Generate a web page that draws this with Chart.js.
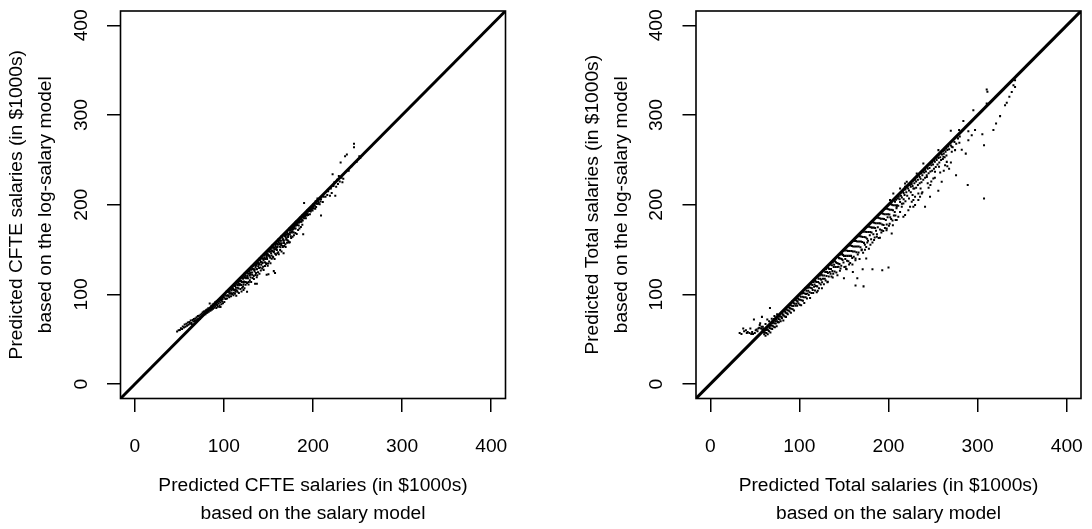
<!DOCTYPE html>
<html>
<head>
<meta charset="utf-8">
<script src="https://cdn.jsdelivr.net/npm/chart.js@4.4.1/dist/chart.umd.min.js"></script>
<style>
  html, body { margin: 0; padding: 0; background: #fff; }
  #wrap { position: relative; width: 1092px; height: 529px; }
  canvas { position: absolute; top: 0; }
</style>
</head>
<body>
<div id="wrap">
  <canvas id="cfte-chart" width="546" height="529" style="left:0"></canvas>
  <canvas id="total-chart" width="546" height="529" style="left:546px"></canvas>
</div>
<script>
// axis ticks shared by both panels (values in $1000s)
const tickValues = [0, 100, 200, 300, 400]
const axisMin = -16
const axisMax = 416

const cfteXTitle = ['Predicted CFTE salaries (in $1000s)', 'based on the salary model']
const cfteYTitle = ['Predicted CFTE salaries (in $1000s)', 'based on the log-salary model']
const totalXTitle = ['Predicted Total salaries (in $1000s)', 'based on the salary model']
const totalYTitle = ['Predicted Total salaries (in $1000s)', 'based on the log-salary model']

// [salary model, log-salary model]
const cftePoints = [
  // low end, sits just above the diagonal
  [47.5, 58.6], [49.2, 60.1], [50.6, 60.4], [51.8, 62.3], [53.1, 61.5], [53.9, 64.2], [55.2, 63.1], [56.0, 66.4],
  [56.8, 64.0], [57.9, 67.3], [58.7, 65.2], [59.6, 68.8], [60.2, 66.1], [61.3, 69.4], [61.9, 67.2], [62.8, 70.9],
  [63.4, 68.3], [64.1, 66.9], [64.9, 71.6], [65.7, 69.8], [66.3, 72.7], [67.2, 70.4], [67.9, 73.3], [68.6, 71.2],
  [69.4, 74.6], [70.1, 72.3], [70.8, 75.9], [71.3, 73.0], [72.0, 76.2], [72.7, 74.4], [73.2, 72.6], [73.8, 77.5],
  [74.3, 75.1], [75.1, 78.4], [75.6, 76.0], [76.2, 79.8], [76.7, 77.1], [77.3, 80.6], [77.8, 78.2], [78.2, 81.3],
  [78.9, 79.4], [79.3, 77.8], [79.8, 82.5], [80.4, 80.1],
  [80.9, 83.2], [81.4, 79.6], [81.9, 81.4], [82.5, 84.6], [83.0, 80.7], [83.6, 82.9], [84.1, 90.0], [84.4, 85.3],
  [84.9, 81.8], [85.5, 84.4], [85.9, 87.1], [86.4, 83.0], [86.9, 85.6], [87.4, 88.7], [87.8, 84.1], [88.3, 86.5],
  [88.7, 89.6], [89.2, 85.3], [89.7, 87.8], [90.2, 91.2], [90.6, 86.9], [91.1, 89.4], [91.5, 84.9], [92.0, 92.6],
  [92.4, 88.3], [92.9, 90.7], [93.3, 86.4], [93.8, 93.8], [94.2, 89.9], [94.7, 92.1], [95.1, 87.6], [95.6, 95.2],
  [96.0, 86.0], [96.3, 91.4], [96.8, 93.7], [97.2, 89.2], [97.7, 96.4], [98.1, 92.5], [98.6, 94.9], [99.0, 90.3],
  [99.5, 97.8],
  // main band
  [100, 97], [100.5, 91.5], [101, 100], [101.5, 95.5], [102, 95], [102.5, 98.5], [103, 103], [103.5, 95.5],
  [104, 99], [104.5, 98.5], [105, 103], [105.5, 98.5], [106, 97], [106.5, 103.5], [107, 101], [107.5, 106.5],
  [108, 98], [108.5, 104.5], [109, 101], [109.5, 100.5], [110, 108], [110.5, 105.5], [111, 102], [111.5, 111.5],
  [112, 105], [112.5, 109.5], [113, 103], [113.5, 107.5], [114, 113], [114.5, 104.5], [115, 111], [115.5, 107.5],
  [116, 114], [116.5, 106.5], [117, 112], [117.5, 110.5], [118, 115], [118.5, 111.5], [119, 118], [119.5, 110.5],
  [120, 114], [120.5, 107.5], [121, 119], [121.5, 117.5], [122, 111], [122.5, 114.5], [123, 123], [123.5, 118.5],
  [124, 114], [124.5, 121.5], [125, 118], [125.5, 113.5], [126, 125], [126.5, 120.5], [127, 118], [127.5, 123.5],
  [128, 114], [128.5, 126.5], [129, 121], [129.5, 124.5], [130, 119], [130.5, 127.5], [131, 131], [131.5, 124.5],
  [132, 122], [132.5, 128.5], [133, 132], [133.5, 120.5], [134, 128], [134.5, 125.5], [135, 133], [135.5, 130.5],
  [136, 124], [136.5, 128.5], [137, 134], [137.5, 121.5], [138, 137], [138.5, 131.5], [139, 135], [139.5, 129.5],
  [140, 134], [140.5, 138.5], [141, 130], [141.5, 136.5], [142, 133], [142.5, 142.5], [143, 140], [143.5, 135.5],
  [144, 131], [144.5, 138.5], [145, 144], [145.5, 141.5], [146, 136], [146.5, 139.5], [147, 135], [147.5, 145.5],
  [148, 143], [148.5, 139.5], [149, 146], [149.5, 134.5], [150, 144], [150.5, 149.5], [151, 143], [151.5, 147.5],
  [152, 141], [152.5, 150.5], [153, 146], [153.5, 143.5], [154, 149], [154.5, 154.5], [155, 142], [155.5, 152.5],
  [156, 147], [156.5, 150.5], [157, 156], [157.5, 145.5], [158, 154], [158.5, 150.5], [159, 157], [159.5, 149.5],
  [160, 153], [160.5, 155.5], [161, 147], [161.5, 158.5], [162, 161], [162.5, 153.5], [163, 157], [163.5, 152.5],
  [164, 160], [164.5, 164.5], [165, 157], [165.5, 163.5], [166, 154], [166.5, 161.5], [167, 160], [167.5, 157.5],
  [168, 165], [168.5, 167.5], [169, 156], [169.5, 163.5], [170, 161], [170.5, 166.5], [171, 169], [171.5, 160.5],
  [172, 164], [172.5, 167.5], [173, 158], [173.5, 173.5], [174, 167], [174.5, 171.5], [175, 165], [175.5, 172.5],
  [176, 175], [176.5, 170.5], [177, 175], [177.5, 172.5], [178, 177], [178.5, 174.5], [179, 176], [179.5, 173.5],
  [180, 178], [180.5, 173.5], [181, 177], [181.5, 181.5], [182, 179], [182.5, 177.5], [183, 181], [183.5, 182.5],
  [184, 177], [184.5, 180.5], [185, 182], [185.5, 185.5], [186, 181], [186.5, 184.5], [187, 181], [187.5, 183.5],
  [188, 188], [188.5, 182.5], [189, 186], [189.5, 187.5], [190, 185], [190.5, 189.5], [191, 187], [191.5, 188.5],
  [192, 185], [192.5, 190.5], [193, 188], [193.5, 193.5], [194, 190], [194.5, 188.5], [195, 193], [195.5, 194.5],
  [196, 193], [196.5, 189.5], [197, 196], [197.5, 192.5], [198, 195], [198.5, 194.5], [199, 197], [199.5, 193.5],
  [200, 196], [200.5, 200.5], [201, 196], [201.5, 199.5], [202, 199], [202.5, 195.5], [203, 202], [203.5, 197.5],
  [204, 201], [204.5, 204.5], [205, 201], [205.5, 203.5], [206, 201], [206.5, 202.5], [207, 206], [207.5, 200.5],
  [208, 206], [208.5, 203.5], [209, 206], [209.5, 208.5],
  [105.2, 103.2], [106.2, 101.2], [107.2, 106.2], [108.2, 101.2], [109.2, 106.2], [110.2, 106.2], [111.2, 105.2],
  [112.2, 111.2], [113.2, 105.2], [114.2, 112.2], [115.2, 110.2], [116.2, 113.2], [117.2, 110.2], [118.2, 118.2],
  [119.2, 115.2], [120.2, 114.2], [121.2, 119.2], [122.2, 113.2], [123.2, 120.2], [124.2, 119.2], [125.2, 124.2],
  [126.2, 119.2], [127.2, 123.2], [128.2, 126.2], [129.2, 123.2], [130.2, 122.2], [131.2, 128.2], [132.2, 131.2],
  [133.2, 128.2], [134.2, 127.2], [135.2, 133.2], [136.2, 132.2], [137.2, 128.2], [138.2, 135.2], [139.2, 133.2],
  [140.2, 140.2], [141.2, 136.2], [142.2, 140.2], [143.2, 135.2], [144.2, 140.2], [145.2, 144.2], [146.2, 140.2],
  [147.2, 144.2], [148.2, 141.2], [149.2, 144.2], [150.2, 148.2], [151.2, 142.2], [152.2, 148.2], [153.2, 152.2],
  [154.2, 148.2], [155.2, 152.2], [156.2, 148.2], [157.2, 152.2], [158.2, 156.2], [159.2, 152.2], [160.2, 156.2],
  [161.2, 161.2], [162.2, 156.2], [163.2, 160.2], [164.2, 155.2], [165.2, 164.2], [166.2, 161.2], [167.2, 160.2],
  [168.2, 166.2], [169.2, 165.2], [170.2, 162.2], [171.2, 168.2], [172.2, 166.2], [173.2, 172.2], [174.2, 169.2],
  [175.2, 173.2], [176.2, 169.2], [177.2, 173.2], [178.2, 169.2], [179.2, 176.2], [180.2, 180.2], [181.2, 178.2],
  [182.2, 181.2], [183.2, 180.2], [184.2, 180.2], [185.2, 184.2], [186.2, 184.2], [187.2, 183.2], [188.2, 186.2],
  [189.2, 188.2], [190.2, 187.2], [191.2, 188.2], [192.2, 191.2], [193.2, 189.2], [194.2, 192.2], [195.2, 193.2],
  [196.2, 195.2], [197.2, 194.2], [198.2, 197.2], [199.2, 196.2], [200.2, 198.2],
  // lower edge of the band
  [110.7, 99.2], [112.4, 100.9], [113.9, 98.6], [115.3, 103.1], [116.8, 101.5], [118.6, 106.2], [119.8, 103.4],
  [121.5, 108.9], [123.1, 107.0], [124.4, 110.7], [126.0, 112.8], [127.7, 111.1], [129.1, 115.9], [130.6, 114.0],
  [132.3, 118.4], [133.7, 117.2], [135.4, 121.6], [136.9, 119.3], [138.3, 124.8], [139.9, 123.0], [141.4, 126.7],
  [143.0, 128.9], [144.6, 127.4], [146.1, 131.8], [147.5, 133.9], [149.2, 132.0], [150.8, 136.6], [152.3, 134.9],
  [153.7, 139.7], [155.4, 141.2], [156.9, 139.5], [158.5, 144.3], [160.0, 145.8], [161.6, 144.9], [163.1, 149.6],
  [164.7, 148.0], [166.2, 152.9], [167.8, 154.1], [169.3, 153.0], [170.9, 157.6], [172.4, 159.2], [174.0, 158.1],
  [175.5, 162.8], [177.1, 164.3], [178.6, 165.9], [180.2, 168.4], [181.7, 167.3], [183.3, 171.9], [184.8, 173.5],
  [186.4, 175.2], [188.0, 177.6],
  // stragglers below the band
  [96, 86], [122, 105], [126, 103], [135, 112], [137, 112], [148, 122], [150, 122.5], [156, 126],
  [157.4, 124], [167, 146], [189, 167], [190, 202], [209, 188], [203, 204], [205, 207],
  // upper end
  [211, 203], [212, 209], [214, 209], [216, 211], [217, 215], [219, 210], [220, 218], [221, 213],
  [222, 234], [223, 221], [224, 225], [225, 210], [226, 220], [227, 228], [228, 223], [229, 232],
  [230, 226], [231, 247], [232, 230], [233, 225], [234, 229], [236, 254], [238, 256], [240, 238],
  [243, 243], [246, 264], [246, 268], [249, 248], [251, 251], [252, 254], [253, 252]
]

const totalPoints = [
  // low end, partly above the diagonal
  [33, 57], [35, 56], [37, 62], [38, 59], [40, 60], [41, 57], [42, 58], [44, 57], [45, 62], [46, 56],
  [47, 58], [48, 56], [49, 72], [50, 57], [51, 60], [52, 61], [53, 59], [54, 62], [55, 63], [55.5, 66],
  [56, 68], [57, 62], [57.5, 64], [58, 75], [58.5, 61], [59, 64], [59.5, 62], [62, 67], [64, 72], [67, 85],
  [66, 70], [69, 73], [72, 76], [75, 78],
  // main band
  [60, 58], [60.5, 55.5], [61, 60], [61.5, 57.5], [62, 54], [62.5, 60.5], [63, 57], [63.5, 63.5],
  [64, 61], [64.5, 55.5], [65, 60], [65.5, 64.5], [66, 59], [66.5, 62.5], [67, 65], [67.5, 57.5],
  [68, 62], [68.5, 65.5], [69, 68], [69.5, 61.5], [70, 65], [70.5, 68.5], [71, 64], [71.5, 72.5],
  [72, 68], [72.5, 63.5], [73, 70], [73.5, 67.5], [74, 72], [74.5, 64.5], [75, 70], [75.5, 74.5],
  [76, 69], [76.5, 72.5], [77, 69], [77.5, 75.5], [78, 72], [78.5, 75.5], [79, 70], [79.5, 79.5],
  [80, 75], [80.5, 73.5], [81, 79], [81.5, 77.5], [82, 71], [82.5, 76.5], [83, 82], [83.5, 75.5],
  [84, 81], [84.5, 79.5], [85, 75], [85.5, 83.5], [86, 79], [86.5, 82.5], [87, 78], [87.5, 86.5],
  [88, 82], [88.5, 85.5], [89, 81], [89.5, 84.5], [90, 88], [90.5, 79.5], [91, 84], [91.5, 87.5],
  [92, 92], [92.5, 83.5], [93, 87], [93.5, 90.5], [94, 82], [94.5, 89.5], [95, 94], [95.5, 87.5],
  [96, 94], [96.5, 89.5], [97, 93], [97.5, 87.5], [98, 92], [98.5, 95.5], [99, 90], [99.5, 94.5],
  [100, 99], [100.5, 88.5], [101, 94], [101.5, 97.5], [102, 88], [102.5, 93.5], [103, 101], [103.5, 97.5],
  [104, 93], [104.5, 101.5], [105, 97], [105.5, 90.5], [106, 101], [106.5, 106.5], [107, 97], [107.5, 100.5],
  [108, 104], [108.5, 95.5], [109, 101], [109.5, 107.5], [110, 104], [110.5, 99.5], [111, 108], [111.5, 102.5],
  [112, 96], [112.5, 107.5], [113, 112], [113.5, 101.5], [114, 107], [114.5, 110.5], [115, 105], [115.5, 101.5],
  [116, 114], [116.5, 108.5], [117, 111], [117.5, 104.5], [118, 115], [118.5, 109.5], [119, 114], [119.5, 102.5],
  [120, 109], [120.5, 119.5], [121, 114], [121.5, 117.5], [122, 107], [122.5, 112.5], [123, 121], [123.5, 117.5],
  [124, 111], [124.5, 116.5], [125, 122], [125.5, 113.5], [126, 121], [126.5, 117.5], [127, 127], [127.5, 111.5],
  [128, 121], [128.5, 117.5], [129, 125], [129.5, 115.5], [130, 128], [130.5, 120.5], [131, 125], [131.5, 113.5],
  [132, 124], [132.5, 129.5], [133, 120], [133.5, 128.5], [134, 125], [134.5, 133.5], [135, 123], [135.5, 128.5],
  [136, 120], [136.5, 132.5], [137, 126], [137.5, 135.5], [138, 123], [138.5, 130.5], [139, 133], [139.5, 125.5],
  [140, 137], [140.5, 130.5], [141, 136], [141.5, 124.5], [142, 135], [142.5, 130.5], [143, 142], [143.5, 134.5],
  [144, 131], [144.5, 140.5], [145, 134], [145.5, 126.5], [146, 140], [146.5, 144.5], [147, 132], [147.5, 139.5],
  [148, 145], [148.5, 138.5], [149, 144], [149.5, 135.5], [150, 143], [150.5, 130.5], [151, 149], [151.5, 139.5],
  [152, 143], [152.5, 128.5], [153, 149], [153.5, 137.5], [154, 143], [154.5, 148.5], [155, 137], [155.5, 154.5],
  [156, 143], [156.5, 148.5], [157, 135], [157.5, 154.5], [158, 143], [158.5, 148.5], [159, 154], [159.5, 133.5],
  [160, 148], [160.5, 153.5], [161, 142], [161.5, 159.5], [162, 148], [162.5, 153.5], [163, 140], [163.5, 159.5],
  [164, 147], [164.5, 153.5], [165, 159], [165.5, 144.5], [166, 165], [166.5, 153.5], [167, 159], [167.5, 139.5],
  [168, 165], [168.5, 152.5], [169, 159], [169.5, 164.5], [170, 150], [170.5, 158.5], [171, 164], [171.5, 146.5],
  [172, 170], [172.5, 157.5], [173, 164], [173.5, 155.5], [174, 170], [174.5, 163.5], [175, 153], [175.5, 169.5],
  [176, 162], [176.5, 175.5], [177, 160], [177.5, 169.5], [178, 151], [178.5, 175.5], [179, 166], [179.5, 169.5],
  [180, 175], [180.5, 161.5], [181, 169], [181.5, 174.5], [182, 158], [182.5, 180.5], [183, 167], [183.5, 174.5],
  [184, 180], [184.5, 163.5], [185, 174], [185.5, 179.5], [186, 171], [186.5, 185.5], [187, 167], [187.5, 179.5],
  [188, 175], [188.5, 185.5], [189, 163], [189.5, 179.5], [190, 185], [190.5, 172.5], [191, 179], [191.5, 184.5],
  [192, 169], [192.5, 190.5], [193, 178], [193.5, 184.5], [194, 190], [194.5, 177.5], [195, 184], [195.5, 189.5],
  [196, 174], [196.5, 195.5], [197, 183], [197.5, 189.5], [198, 178], [198.5, 195.5], [199, 186], [199.5, 189.5],
  [200, 195], [200.5, 176.5], [201, 189], [201.5, 194.5], [202, 186], [202.5, 200.5], [203, 184], [203.5, 194.5],
  [204, 200], [204.5, 182.5], [205, 194], [205.5, 199.5], [206, 188], [206.5, 205.5], [207, 192], [207.5, 199.5],
  [208, 183], [208.5, 205.5], [209, 196], [209.5, 199.5],
  [120.6, 104.1], [125.3, 106.8], [131.8, 114.2], [137.4, 118.9], [142.7, 121.3], [146.2, 128.8], [151.9, 131.0],
  [155.8, 133.4], [159.3, 140.6], [162.9, 138.1], [166.4, 146.7], [169.8, 149.2], [173.6, 149.8], [176.2, 157.9],
  [179.7, 155.3], [183.8, 160.6], [186.9, 164.2], [190.4, 163.1], [194.1, 170.8], [197.8, 171.5], [201.3, 178.9],
  [204.9, 177.2], [207.8, 188.1],
  // upper branch along the diagonal
  [210.5, 207], [211.5, 209], [212.5, 206], [213, 213], [214, 210], [215, 208], [216, 215], [217, 213],
  [218, 211], [219, 217], [220, 214], [221, 220], [222, 218], [223, 216], [224, 222], [225, 220],
  [226, 223], [227, 221], [228, 227], [229, 224], [230, 228], [231, 226], [232, 231], [233, 228],
  [234, 233], [235, 231], [236, 229], [237, 235], [238, 233], [239, 237], [240, 236], [241, 239],
  [242, 237], [243, 242], [244, 240], [245, 244], [246, 241], [247, 246], [248, 244], [249, 247],
  [250, 245], [251, 250], [252, 248], [253, 252], [254, 250], [255, 254], [256, 252], [257, 256],
  [258, 253], [259, 258], [260, 256], [261, 260], [262, 257], [263, 261], [264, 259], [265, 263],
  [266, 261], [267, 265], [268, 262], [270, 266], [272, 264], [274, 270], [276, 268], [278, 274], [280, 276],
  // between the branches
  [211, 199], [213, 203], [215, 201], [217, 206], [219, 204], [221, 210], [223, 207], [225, 214],
  [227, 211], [229, 218], [231, 219], [233, 222], [235, 224], [237, 225], [239, 228], [241, 230],
  [243, 231], [245, 235], [247, 237], [249, 238], [251, 240], [253, 242], [255, 245], [257, 247],
  [259, 250], [261, 251], [263, 253], [265, 255],
  // lower branch and scattered points
  [216.7, 186.6], [218.6, 188.5], [222.3, 194], [224.2, 197.7], [226.1, 203.3], [227.9, 205.2], [229.8, 208.8],
  [233.5, 212.6], [213, 192], [214.9, 197.7], [216.7, 201.5], [209.2, 182.9], [211, 186.6], [203.6, 168],
  [192.4, 171.7], [198, 173.6], [205.4, 212.6], [201.7, 205.2], [207.3, 203.3], [209.2, 197.7], [220.5, 225.6],
  [218.6, 223.8], [218.6, 220], [213, 218.2], [227.9, 218.2], [237.3, 212.6], [235.4, 208.8], [233.5, 205.2],
  [229.8, 199.6], [227.9, 197.7], [241, 197.7], [246.6, 208.8], [255.9, 215.5], [259.7, 225.6], [250.3, 229.3],
  [252.2, 236.7], [242.9, 233], [231.7, 234.9], [239.1, 246], [256.7, 242.3], [265.4, 247.8], [263.5, 244.1],
  [261.6, 253.4], [250.3, 249.7], [256, 260.9], [271, 264.6], [271, 259], [274.7, 260.9], [282.2, 261.2],
  [279.5, 269], [293.4, 277.6], [289.6, 272], [286.7, 257], [275.8, 233], [288.9, 221.9], [307.2, 207],
  [307.2, 266.4], [305.3, 278.7], [297.1, 283.2], [289.6, 282], [279.2, 283.2], [269.9, 282.4], [284, 293.5],
  [295.2, 305.4], [310.2, 312.9], [317.7, 283.2], [320.7, 290.6], [325.2, 298.8], [330.8, 311], [332.7, 313.6],
  [335.6, 320.3], [338.3, 325.8], [342, 331.4], [340.2, 333.3], [342, 338.9], [310.2, 328.5], [311, 326],
  [244, 224], [248, 226], [252, 230], [258, 236], [262, 238], [266, 243], [268, 240], [270, 247],
  [245, 219], [238, 214], [236, 218], [247, 222],
  [150, 118], [153, 128], [163, 110], [165, 118], [172, 109], [171, 128], [182, 128], [193, 127],
  [200, 130], [160, 125], [175, 140]
]

const FONT = '19.2px "Liberation Sans", Arial, sans-serif'

// box, tick labels and two-line axis titles, R style
function frameLabels (xTitle, yTitle) {
  return {
    id: 'frameLabels',
    afterDraw (chart) {
      const { ctx, chartArea: a } = chart
      const xs = chart.scales.x
      const ys = chart.scales.y
      ctx.save()
      ctx.strokeStyle = '#000'
      ctx.lineWidth = 1.6
      ctx.strokeRect(a.left, a.top, a.right - a.left, a.bottom - a.top)

      ctx.fillStyle = '#000'
      ctx.font = FONT
      ctx.textAlign = 'center'
      ctx.textBaseline = 'middle'
      for (const v of tickValues) {
        ctx.fillText(String(v), xs.getPixelForValue(v), a.bottom + 48.2)
        ctx.save()
        ctx.translate(a.left - 38.8, ys.getPixelForValue(v))
        ctx.rotate(-Math.PI / 2)
        ctx.fillText(String(v), 0, 0)
        ctx.restore()
      }

      const cx = (a.left + a.right) / 2
      const cy = (a.top + a.bottom) / 2
      xTitle.forEach((t, i) => ctx.fillText(t, cx, a.bottom + 87.3 + i * 27.5))
      yTitle.forEach((t, i) => {
        ctx.save()
        ctx.translate(a.left - 103.5 + i * 28.8, cy)
        ctx.rotate(-Math.PI / 2)
        ctx.fillText(t, 0, 0)
        ctx.restore()
      })
      ctx.restore()
    }
  }
}

function axisOptions (fit) {
  return {
    type: 'linear',
    min: axisMin,
    max: axisMax,
    afterBuildTicks: (scale) => { scale.ticks = tickValues.map((value) => ({ value })) },
    afterFit: fit,
    ticks: { display: false },
    border: { display: false },
    grid: {
      drawOnChartArea: false,
      drawTicks: true,
      tickLength: 13.5,
      color: '#000',
      lineWidth: 1.5
    }
  }
}

function makeChart (id, points, xTitle, yTitle, box) {
  return new Chart(document.getElementById(id), {
    type: 'scatter',
    data: {
      datasets: [
        {
          // y = x reference line, drawn on top of the points
          type: 'line',
          data: [{ x: axisMin, y: axisMin }, { x: axisMax, y: axisMax }],
          borderColor: '#000',
          borderWidth: 3,
          pointRadius: 0,
          fill: false
        },
        {
          data: points.map(([x, y]) => ({ x, y })),
          pointStyle: 'rect',
          pointRadius: 1.42,
          backgroundColor: '#000',
          borderWidth: 0
        }
      ]
    },
    options: {
      responsive: false,
      animation: false,
      devicePixelRatio: 1,
      events: [],
      layout: { padding: { left: 0, top: box.top, right: 546 - box.right, bottom: 0 } },
      plugins: { legend: { display: false }, tooltip: { enabled: false } },
      scales: {
        x: axisOptions((s) => { s.height = 529 - box.bottom }),
        y: axisOptions((s) => { s.width = box.left })
      }
    },
    plugins: [frameLabels(xTitle, yTitle)]
  })
}

makeChart('cfte-chart', cftePoints, cfteXTitle, cfteYTitle,
  { left: 120.5, right: 505.5, top: 11, bottom: 398.5 })
makeChart('total-chart', totalPoints, totalXTitle, totalYTitle,
  { left: 150, right: 535, top: 11, bottom: 398.5 })
</script>
</body>
</html>
